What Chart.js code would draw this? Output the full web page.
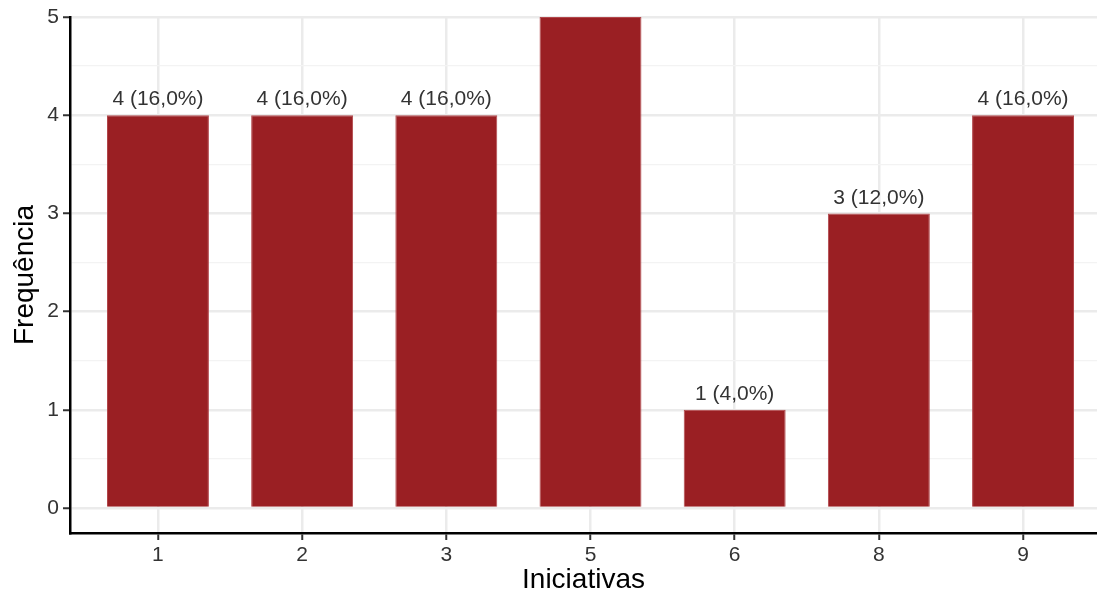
<!DOCTYPE html>
<html>
<head>
<meta charset="utf-8">
<script src="https://cdn.jsdelivr.net/npm/chart.js@4.4.1/dist/chart.umd.min.js"></script>
<style>
  html, body { margin: 0; padding: 0; background: #fff; }
  #wrap { width: 1097px; height: 595px; position: relative; }
</style>
</head>
<body>
<div id="wrap"><canvas id="barChart"></canvas></div>
<script>
        const categories = ['1', '2', '3', '5', '6', '8', '9'];
        const frequencies = [4, 4, 4, 5, 1, 3, 4];
        const yTicks = [0, 1, 2, 3, 4, 5];

        const total = frequencies.reduce((a, b) => a + b, 0);
        const FONT = '"Liberation Sans", Arial, sans-serif';

        // value labels above each bar, e.g. "4 (16,0%)" - clipped to the panel like ggplot
        const barLabels = {
            id: 'barLabels',
            afterDatasetsDraw(chart) {
                const ctx = chart.ctx;
                const area = chart.chartArea;
                const meta = chart.getDatasetMeta(0);
                ctx.save();
                ctx.beginPath();
                ctx.rect(area.left, area.top, area.right - area.left, area.bottom - area.top);
                ctx.clip();
                ctx.font = '21px ' + FONT;
                ctx.fillStyle = '#333333';
                ctx.textAlign = 'center';
                ctx.textBaseline = 'bottom';
                meta.data.forEach((bar, i) => {
                    const v = frequencies[i];
                    const pct = (v / total * 100).toFixed(1).replace('.', ',');
                    ctx.fillText(v + ' (' + pct + '%)', bar.x, bar.y - 5);
                });
                ctx.restore();
            }
        };

        function createBarChart() {
            const ctx = document.getElementById('barChart').getContext('2d');
            new Chart(ctx, {
                type: 'bar',
                data: {
                    datasets: [{
                        data: frequencies.map((v, i) => ({ x: i, y: v })),
                        backgroundColor: '#9a1f23',
                        borderColor: '#b2474b',
                        borderWidth: 1,
                        categoryPercentage: 1,
                        barPercentage: 0.707
                    }]
                },
                options: {
                    responsive: true,
                    maintainAspectRatio: false,
                    animation: false,
                    layout: { padding: { top: 17, left: 0, right: 0, bottom: 0 } },
                    plugins: {
                        legend: { display: false },
                        tooltip: { enabled: false }
                    },
                    scales: {
                        x: {
                            type: 'linear',
                            offset: false,
                            min: -0.61,
                            max: 6.513,
                            afterBuildTicks: scale => {
                                scale.ticks = categories.map((c, i) => ({ value: i }));
                            },
                            afterFit: scale => {
                                scale.height = 62;
                                scale.paddingLeft = 0;
                                scale.paddingRight = 0;
                            },
                            ticks: {
                                autoSkip: false,
                                maxRotation: 0,
                                padding: 3,
                                color: '#333333',
                                font: { family: FONT, size: 21 },
                                callback: v => categories[v]
                            },
                            grid: {
                                offset: false,
                                color: '#ebebeb',
                                lineWidth: 2.5,
                                drawTicks: true,
                                tickLength: 7,
                                tickColor: '#333333',
                                tickWidth: 2
                            },
                            border: { display: true, color: '#000000', width: 2.5 },
                            title: {
                                display: true,
                                text: 'Iniciativas',
                                color: '#000000',
                                font: { family: FONT, size: 28, lineHeight: 1 },
                                padding: { top: 0, bottom: 1 }
                            }
                        },
                        y: {
                            min: -0.2546,
                            max: 5,
                            afterBuildTicks: scale => {
                                const t = [];
                                yTicks.forEach(v => {
                                    t.push({ value: v });
                                    if (v < yTicks[yTicks.length - 1]) t.push({ value: v + 0.5 });
                                });
                                scale.ticks = t;
                            },
                            afterFit: scale => {
                                scale.width = 70;
                                scale.paddingTop = 0;
                                scale.paddingBottom = 0;
                            },
                            ticks: {
                                padding: 4,
                                color: '#333333',
                                font: { family: FONT, size: 21 },
                                callback: v => (v % 1 === 0 ? v : '')
                            },
                            grid: {
                                color: c => (c.tick && c.tick.value % 1 === 0 ? '#ebebeb' : '#f3f3f3'),
                                lineWidth: c => (c.tick && c.tick.value % 1 === 0 ? 2.5 : 1.2),
                                drawTicks: true,
                                tickLength: 7,
                                tickColor: c => (c.tick && c.tick.value % 1 === 0 ? '#333333' : 'rgba(0,0,0,0)'),
                                tickWidth: 2
                            },
                            border: { display: true, color: '#000000', width: 2.5 },
                            title: {
                                display: true,
                                text: 'Frequência',
                                color: '#000000',
                                font: { family: FONT, size: 28, lineHeight: 1 },
                                padding: { top: 11, bottom: 0 }
                            }
                        }
                    }
                },
                plugins: [barLabels]
            });
        }

        window.onload = createBarChart;
</script>
</body>
</html>
